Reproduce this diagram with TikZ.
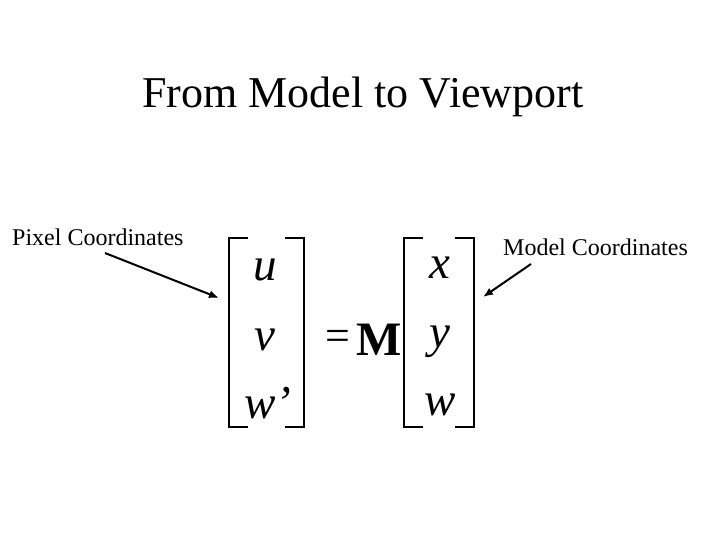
\documentclass[tikz,border=0pt]{standalone}
\usepackage{fontspec}
\usetikzlibrary{arrows.meta}
\setmainfont{Liberation Serif}
\begin{document}
\begin{tikzpicture}[x=1pt,y=-1pt,
  lbl/.style={font=\fontsize{24}{26}\selectfont,inner sep=0},
  ent/.style={font=\fontsize{47}{50}\selectfont\itshape,inner sep=0},
  br/.style={line width=1.6pt},
  arr/.style={line width=2pt,-{Latex[length=10pt,width=8pt]}}]
\useasboundingbox (0,0) rectangle (720,540);
\node[inner sep=0,font=\fontsize{44}{48}\selectfont] (title) at (363,97) {From Model to Viewport};
\node[lbl,anchor=west] (pc) at (12,237) {Pixel Coordinates};
\node[lbl,anchor=west] (mc) at (503,247) {Model Coordinates};
% left vector
\draw[br] (248,238) -- (229,238) -- (229,427) -- (248,427);
\draw[br] (285,238) -- (304,238) -- (304,427) -- (285,427);
\node[ent] (u) at (265,270) {u};
\node[ent] (v) at (265,340) {v};
\node[ent] (w1) at (268,403) {w'};
\node[inner sep=0,font=\fontsize{44}{48}\selectfont] (eq) at (338,340) {=};
\node[inner sep=0,font=\fontsize{48}{50}\selectfont\bfseries] (M) at (379,340) {M};
% right vector
\draw[br] (423,238) -- (404,238) -- (404,427) -- (423,427);
\draw[br] (455,238) -- (474,238) -- (474,427) -- (455,427);
\node[ent] (x) at (440,268) {x};
\node[ent] (y) at (440,342) {y};
\node[ent] (w) at (440,405) {w};
\coordinate (a1s) at (105,253);
\coordinate (a1e) at (219,298);
\coordinate (a2s) at (531,264);
\coordinate (a2e) at (483,297);
\draw[arr] (a1s) -- (a1e);
\draw[arr] (a2s) -- (a2e);
\end{tikzpicture}
\end{document}
